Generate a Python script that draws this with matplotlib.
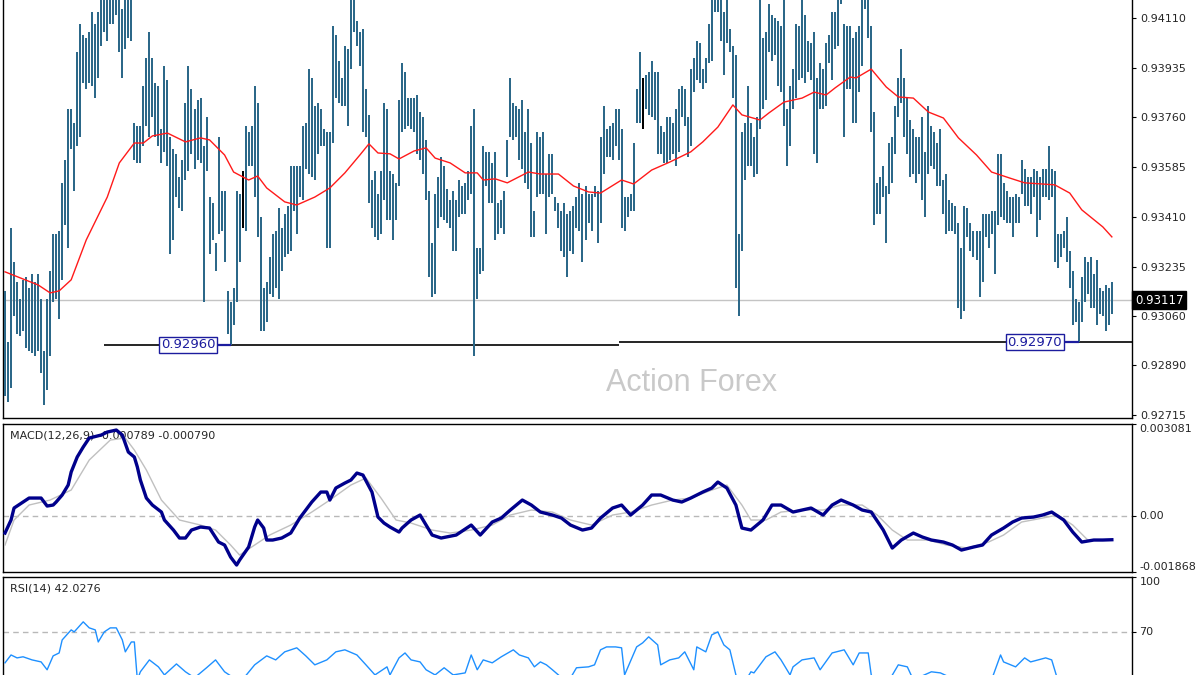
import numpy as np
import matplotlib.pyplot as plt
import matplotlib.transforms as mtransforms

# ---- price bars (high / low), one per bar, left to right ----
highs = [
    0.9315, 0.9297, 0.9337, 0.9325, 0.9318, 0.9312, 0.9319, 0.9320, 0.9316, 0.9321,
    0.9318, 0.9321, 0.9312, 0.9294, 0.9312, 0.9322, 0.9335, 0.9335, 0.9336, 0.9353,
    0.9361, 0.9379, 0.9379, 0.9374, 0.9399, 0.9409, 0.9405, 0.9404, 0.9406, 0.9413,
    0.9409, 0.9413, 0.9420, 0.9421, 0.9422, 0.9424, 0.9420, 0.9423, 0.9419, 0.9414,
    0.9421, 0.9420, 0.9418, 0.9374, 0.9373, 0.9373, 0.9387, 0.9397, 0.9406, 0.9397,
    0.9388, 0.9387, 0.9372, 0.9394, 0.9389, 0.9369, 0.9365, 0.9363, 0.9355, 0.9361,
    0.9381, 0.9394, 0.9386, 0.9379, 0.9382, 0.9383, 0.9366, 0.9376, 0.9348, 0.9346,
    0.9332, 0.9369, 0.9350, 0.9350, 0.9315, 0.9311, 0.9316, 0.9350, 0.9349, 0.9357,
    0.9373, 0.9371, 0.9373, 0.9387, 0.9381, 0.9341, 0.9316, 0.9318, 0.9327, 0.9335,
    0.9336, 0.9344, 0.9337, 0.9342, 0.9345, 0.9359, 0.9359, 0.9359,
    0.9359, 0.9373, 0.9374, 0.9393, 0.9390, 0.9380, 0.9381, 0.9379, 0.9372, 0.9371, 0.9371, 0.9408,
    0.9405, 0.9396, 0.9390, 0.9401, 0.9400, 0.9420, 0.9425, 0.9410, 0.9406, 0.9407,
    0.9386, 0.9377, 0.9354, 0.9357, 0.9349, 0.9357, 0.9381, 0.9379, 0.9357, 0.9356,
    0.9353, 0.9382, 0.9395, 0.9392, 0.9383, 0.9383, 0.9383, 0.9384, 0.9378, 0.9376,
    0.9368, 0.9350, 0.9332, 0.9349, 0.9355, 0.9362, 0.9359, 0.9351, 0.9347, 0.9350,
    0.9347, 0.9354, 0.9352, 0.9353, 0.9357, 0.9373, 0.9379, 0.9330, 0.9330, 0.9366,
    0.9364, 0.9364, 0.9360, 0.9364, 0.9346, 0.9347,
    0.9350, 0.9368, 0.9390, 0.9381,
    0.9380, 0.9379, 0.9382, 0.9371, 0.9379, 0.9367, 0.9343, 0.9371, 0.9369, 0.9371,
    0.9356, 0.9363, 0.9363, 0.9348, 0.9346, 0.9343, 0.9346, 0.9342, 0.9343, 0.9345,
    0.9348, 0.9353, 0.9349, 0.9352, 0.9349, 0.9349, 0.9352, 0.9350, 0.9369, 0.9380,
    0.9372, 0.9373, 0.9374, 0.9379, 0.9379, 0.9372, 0.9348, 0.9348, 0.9349, 0.9367,
    0.9386, 0.9399, 0.9390, 0.9391, 0.9392, 0.9396, 0.9392, 0.9392, 0.9373, 0.9371,
    0.9376, 0.9376, 0.9374, 0.9379, 0.9386, 0.9387, 0.9386, 0.9376, 0.9393, 0.9397,
    0.9403, 0.9402, 0.9393,
    0.9397, 0.9409, 0.9420, 0.9425, 0.9426, 0.9421, 0.9413,
    0.9419, 0.9407, 0.9401, 0.9398, 0.9335, 0.9371, 0.9374, 0.9387, 0.9374, 0.9369,
    0.9376, 0.9419, 0.9404, 0.9406, 0.9416, 0.9412, 0.9411, 0.9410, 0.9408, 0.9421,
    0.9379, 0.9387, 0.9393, 0.9409, 0.9408, 0.9420, 0.9412, 0.9403, 0.9402, 0.9406,
    0.9390, 0.9395, 0.9393, 0.9402, 0.9405, 0.9413, 0.9413, 0.9420, 0.9424, 0.9409,
    0.9408, 0.9408, 0.9404, 0.9406, 0.9408, 0.9419, 0.9424, 0.9420, 0.9408, 0.9378,
    0.9353, 0.9355, 0.9359, 0.9352, 0.9367, 0.9369, 0.9380, 0.9390, 0.9400,
    0.9390, 0.9383, 0.9375, 0.9372, 0.9369, 0.9369, 0.9376, 0.9364, 0.9380, 0.9373, 0.9371,
    0.9367, 0.9372, 0.9354, 0.9356, 0.9347, 0.9346, 0.9345, 0.9339, 0.9330, 0.9345,
    0.9344, 0.9339, 0.9336, 0.9336, 0.9336, 0.9342, 0.9342, 0.9342, 0.9343, 0.9343,
    0.9363, 0.9363, 0.9353, 0.9350, 0.9348, 0.9348, 0.9349, 0.9348, 0.9361, 0.9358,
    0.9355, 0.9355, 0.9358, 0.9357, 0.9355, 0.9358, 0.9358, 0.9366, 0.9358, 0.9357,
    0.9335, 0.9335, 0.9336, 0.9341, 0.9329, 0.9322, 0.9312, 0.9311, 0.9320, 0.9327,
    0.9325, 0.9327, 0.9321, 0.9326, 0.9316, 0.9315, 0.9317, 0.9316, 0.9318,
]
lows = [
    0.9278, 0.9276, 0.9281, 0.9306, 0.9300, 0.9299, 0.9301, 0.9295, 0.9294, 0.9293,
    0.9292, 0.9294, 0.9286, 0.9275, 0.9280, 0.9292, 0.9311, 0.9312, 0.9305, 0.9319,
    0.9338, 0.9330, 0.9365, 0.9350, 0.9366, 0.9369, 0.9388, 0.9386, 0.9388, 0.9387,
    0.9383, 0.9390, 0.9401, 0.9406, 0.9403, 0.9409, 0.9409, 0.9412, 0.9399, 0.9390,
    0.9400, 0.9404, 0.9403, 0.9361, 0.9360, 0.9360, 0.9366, 0.9373, 0.9369, 0.9376,
    0.9369, 0.9366, 0.9360, 0.9364, 0.9359, 0.9328, 0.9333, 0.9348, 0.9344, 0.9343,
    0.9354, 0.9357, 0.9363, 0.9358, 0.9361, 0.9360, 0.9311, 0.9357, 0.9328, 0.9333,
    0.9322, 0.9335, 0.9336, 0.9325, 0.9300, 0.92960, 0.9303, 0.9311, 0.9325, 0.9337,
    0.9336, 0.9359, 0.9359, 0.9348, 0.9334, 0.9301, 0.9301, 0.9304, 0.9314, 0.9313,
    0.9316, 0.9312, 0.9322, 0.9327, 0.9328, 0.9329, 0.9343, 0.9335,
    0.9348, 0.9347, 0.9358, 0.9356, 0.9355, 0.9354, 0.9363, 0.9366, 0.9366, 0.9330, 0.9330, 0.9367,
    0.9383, 0.9381, 0.9380, 0.9380, 0.9373, 0.9393, 0.9406, 0.9401, 0.9394, 0.9371,
    0.9369, 0.9346, 0.9337, 0.9334, 0.9333, 0.9335, 0.9347, 0.9340, 0.9340, 0.9333,
    0.9340, 0.9352, 0.9371, 0.9372, 0.9373, 0.9372, 0.9371, 0.9363, 0.9361, 0.9356,
    0.9347, 0.9320, 0.9313, 0.9314, 0.9337, 0.9341, 0.9340, 0.9339, 0.9337, 0.9329,
    0.9329, 0.9341, 0.9342, 0.9342, 0.9347, 0.9349, 0.9292, 0.9312, 0.9321, 0.9322,
    0.9352, 0.9346, 0.9346, 0.9333, 0.9335, 0.9337,
    0.9335, 0.9355, 0.9369, 0.9368,
    0.9369, 0.9361, 0.9358, 0.9353, 0.9351, 0.9334, 0.9334, 0.9348, 0.9349, 0.9349,
    0.9335, 0.9348, 0.9349, 0.9343, 0.9337, 0.9329, 0.9327, 0.9320, 0.9329, 0.9328,
    0.9337, 0.9336, 0.9325, 0.9333, 0.9339, 0.9336, 0.9348, 0.9332, 0.9339, 0.9356,
    0.9362, 0.9362, 0.9361, 0.9366, 0.9361, 0.9337, 0.9336, 0.9341, 0.9343, 0.9343,
    0.9374, 0.9374, 0.9372, 0.9379, 0.9377, 0.9376, 0.9375, 0.9363, 0.9363, 0.9360,
    0.9360, 0.9361, 0.9363, 0.9359, 0.9364, 0.9376, 0.9373, 0.9362, 0.9366, 0.9385,
    0.9389, 0.9388, 0.9386,
    0.9388, 0.9395, 0.9396, 0.9413, 0.9413, 0.9403, 0.9391,
    0.9402, 0.9399, 0.9383, 0.9316, 0.9306, 0.9329, 0.9354, 0.9359, 0.9359, 0.9355,
    0.9356, 0.9372, 0.9379, 0.9382, 0.9399, 0.9396, 0.9398, 0.9387, 0.9385, 0.9373,
    0.9359, 0.9366, 0.9379, 0.9383, 0.9389, 0.9390, 0.9388, 0.9392, 0.9389, 0.9363,
    0.9360, 0.9379, 0.9379, 0.9380, 0.9395, 0.9389, 0.9400, 0.9401, 0.9416, 0.9369,
    0.9386, 0.9386, 0.9374, 0.9374, 0.9385, 0.9394, 0.9414, 0.9404, 0.9371, 0.9338,
    0.9342, 0.9342, 0.9348, 0.9332, 0.9349, 0.9353, 0.9363, 0.9376, 0.9381,
    0.9369, 0.9363, 0.9355, 0.9356, 0.9353, 0.9356, 0.9347, 0.9341, 0.9356, 0.9359, 0.9358,
    0.9352, 0.9352, 0.9342, 0.9335, 0.9336, 0.9336, 0.9335, 0.9309, 0.9305, 0.9308,
    0.9334, 0.9329, 0.9327, 0.9326, 0.9313, 0.9318, 0.9334, 0.9330, 0.9335, 0.9321,
    0.9338, 0.9341, 0.9340, 0.9339, 0.9339, 0.9334, 0.9339, 0.9339, 0.9349, 0.9345,
    0.9345, 0.9342, 0.9348, 0.9334, 0.9340, 0.9348, 0.9348, 0.9347, 0.9348, 0.9325,
    0.9323, 0.9327, 0.9330, 0.9325, 0.9316, 0.9303, 0.9304, 0.92970, 0.9304, 0.9311,
    0.9314, 0.9309, 0.9309, 0.9303, 0.9307, 0.9306, 0.9301, 0.9303, 0.9307,
]
dark_bars = [79, 212]

# ---- moving average (red) read at selected bars ----
ma_idx = [0, 5, 11, 15, 18, 22, 27, 34, 38, 43, 46, 49, 54, 60, 65, 68, 73, 76, 81, 84,
          87, 93, 97, 103, 108, 113, 118, 121, 124, 128, 131, 136, 140, 143, 148, 153, 157, 159, 163, 167,
          174, 178, 184, 189, 194, 198, 205, 209, 215, 221, 228, 232, 237, 242, 245, 251, 254, 259, 265, 269,
          273, 276, 281, 283, 288, 293, 297, 302, 307, 312, 317, 323, 328, 334, 339, 349, 354, 358, 365, 368]
ma_val = [0.93217, 0.93196, 0.93171, 0.93143, 0.93150, 0.93189, 0.93329, 0.93480, 0.93600, 0.93670,
          0.93670, 0.93695, 0.93705, 0.93674, 0.93688, 0.93681, 0.93628, 0.93568, 0.93540, 0.93554,
          0.93512, 0.93463, 0.93452, 0.93480, 0.93512, 0.93565, 0.93628, 0.93667, 0.93635, 0.93632,
          0.93614, 0.93642, 0.93653, 0.93617, 0.93600, 0.93565, 0.93565, 0.93540, 0.93544, 0.93530,
          0.93568, 0.93561, 0.93561, 0.93519, 0.93498, 0.93494, 0.93540, 0.93526, 0.93575, 0.93603,
          0.93639, 0.93674, 0.93726, 0.93804, 0.93769, 0.93751, 0.93776, 0.93814, 0.93828, 0.93849,
          0.93839, 0.93864, 0.93902, 0.93899, 0.93930, 0.93867, 0.93832, 0.93828, 0.93779, 0.93758,
          0.93688, 0.93628, 0.93568, 0.93547, 0.93530, 0.93523, 0.93494, 0.93435, 0.93375, 0.93340]

# ---- MACD(12,26,9) ----
macd_idx = [0, 2, 3, 6, 8, 12, 14, 16, 17, 19, 21, 22, 24, 26, 28, 32, 34, 37, 39, 41,
            43, 44, 45, 47, 49, 52, 53, 56, 58, 60, 62, 65, 68, 71, 73, 75, 77, 78, 81, 83,
            84, 86, 87, 89, 92, 95, 98, 102, 105, 107, 108, 110, 113, 115, 117, 119, 122, 124, 126, 128,
            131, 132, 135, 138, 142, 145, 150, 155, 158, 162, 165, 168, 172, 175, 178, 182, 185, 188, 192, 195,
            198, 202, 205, 208, 212, 215, 218, 222, 225, 228, 232, 235, 237, 240, 243, 245, 248, 252, 255, 258,
            262, 265, 268, 272, 275, 278, 282, 285, 288, 292, 295, 298, 302, 305, 308, 312, 315, 318, 322, 325,
            328, 332, 335, 338, 342, 345, 348, 352, 355, 358, 362, 365, 368]
macd_val = [-0.000565, -0.000130, 0.000271, 0.000472, 0.000605, 0.000605, 0.000338, 0.000371, 0.000472, 0.000706,
            0.001040, 0.001475, 0.001976, 0.002311, 0.002612, 0.002712, 0.002812, 0.002879, 0.002712, 0.002144,
            0.001976, 0.001642, 0.001207, 0.000605, 0.000371, 0.000137, -0.000130, -0.000465, -0.000732, -0.000732,
            -0.000465, -0.000364, -0.000398, -0.000866, -0.000966, -0.001368, -0.001635, -0.001468, -0.001033, -0.000364,
            -0.000130, -0.000398, -0.000799, -0.000799, -0.000732, -0.000565, -0.000064, 0.000472, 0.000806, 0.000806,
            0.000538, 0.000940, 0.001107, 0.001207, 0.001441, 0.001374, 0.000806, -0.000030, -0.000231, -0.000364,
            -0.000532, -0.000398, -0.000130, 0.000037, -0.000632, -0.000732, -0.000632, -0.000298, -0.000632, -0.000197,
            -0.000064, 0.000204, 0.000538, 0.000371, 0.000137, 0.000037, -0.000064, -0.000298, -0.000465, -0.000398,
            -0.000064, 0.000271, 0.000371, 0.000037, 0.000371, 0.000706, 0.000706, 0.000538, 0.000472, 0.000605,
            0.000806, 0.000940, 0.001140, 0.000940, 0.000371, -0.000398, -0.000465, -0.000130, 0.000371, 0.000371,
            0.000137, 0.000204, 0.000271, 0.000037, 0.000371, 0.000538, 0.000371, 0.000204, 0.000137, -0.000465,
            -0.001067, -0.000799, -0.000565, -0.000699, -0.000799, -0.000866, -0.000966, -0.001134, -0.001033, -0.000966,
            -0.000632, -0.000398, -0.000197, -0.000064, -0.000030, 0.000037, 0.000137, -0.000130, -0.000532, -0.000866,
            -0.000799, -0.000799, -0.000789]
signal_idx = [0, 3, 8, 15, 22, 28, 35, 40, 43, 47, 52, 58, 65, 70, 75, 78, 83, 88, 95, 102,
              108, 115, 120, 125, 130, 135, 142, 148, 155, 162, 168, 175, 182, 188, 195, 202, 208, 215, 222, 228,
              235, 240, 245, 248, 253, 258, 265, 272, 278, 285, 290, 295, 300, 307, 313, 320, 327, 332, 338, 345,
              350, 355, 360, 365, 368]
signal_val = [-0.000966, -0.000130, 0.000371, 0.000538, 0.000873, 0.001876, 0.002545, 0.002612, 0.002210, 0.001542,
              0.000538, -0.000130, -0.000298, -0.000465, -0.000966, -0.001301, -0.000966, -0.000632, -0.000298, 0.000137,
              0.000538, 0.001040, 0.001274, 0.000605, -0.000130, -0.000231, -0.000465, -0.000565, -0.000465, -0.000298,
              0.000037, 0.000204, 0.000137, -0.000130, -0.000298, 0.000037, 0.000137, 0.000371, 0.000538, 0.000605,
              0.000873, 0.001040, 0.000371, -0.000130, -0.000130, 0.000137, 0.000204, 0.000204, 0.000371, 0.000371,
              0.000037, -0.000465, -0.000799, -0.000799, -0.000966, -0.001067, -0.000866, -0.000632, -0.000197, -0.000064,
              0.000037, -0.000298, -0.000799, -0.000799, -0.000790]

# ---- RSI(14) ----
rsi_idx = [0, 2, 4, 6, 9, 12, 14, 16, 18, 19, 22, 23, 26, 28, 30, 31, 33, 35, 37, 39,
           40, 42, 43, 44, 45, 48, 51, 53, 57, 60, 63, 67, 70, 73, 77, 80, 83, 87, 90, 93,
           97, 100, 103, 107, 110, 113, 117, 120, 123, 127, 128, 131, 133, 135, 138, 140, 143, 146, 149, 153,
           155, 157, 159, 162, 165, 169, 171, 174, 176, 178, 180, 182, 184, 187, 190, 194, 196, 198, 200, 203,
           205, 206, 210, 212, 214, 217, 218, 221, 224, 226, 229, 230, 233, 235, 237, 239, 241, 243, 245, 248,
           249, 253, 256, 258, 261, 262, 265, 269, 271, 275, 279, 282, 284, 287, 288, 292, 297, 300, 302, 308,
           311, 316, 322, 328, 331, 332, 336, 339, 341, 346, 348, 350, 358, 368]
rsi_val = [53.1, 57.4, 55.8, 56.4, 54.7, 53.6, 49.3, 56.9, 58.5, 65.6,
           71.1, 70.0, 75.5, 72.2, 71.1, 64.5, 70.0, 72.2, 72.2, 65.6,
           59.1, 64.5, 64.5, 43.8, 48.2, 54.7, 50.9, 46.5, 52.5, 48.2,
           44.9, 50.4, 54.7, 48.2, 43.8, 46.0, 52.0, 56.9, 54.7, 59.1,
           61.3, 56.9, 52.0, 54.7, 59.1, 60.2, 57.4, 52.0, 46.5, 50.9,
           46.5, 55.8, 58.5, 54.7, 53.6, 49.3, 46.5, 50.4, 46.5, 47.6,
           57.4, 49.3, 54.7, 53.1, 56.4, 60.2, 57.4, 55.8, 50.9, 53.6,
           52.0, 49.3, 46.5, 42.0, 50.4, 50.9, 52.0, 60.2, 61.8, 61.8,
           61.3, 46.5, 61.8, 64.0, 67.3, 62.9, 52.0, 54.7, 55.8, 59.1,
           49.3, 61.8, 59.1, 68.4, 70.0, 62.9, 60.2, 46.5, 40.0, 48.2,
           47.6, 56.4, 59.1, 54.7, 46.5, 50.9, 54.7, 55.8, 49.3, 58.5,
           60.2, 52.0, 58.5, 58.5, 46.5, 38.0, 52.0, 50.9, 43.8, 48.2,
           47.6, 43.8, 38.0, 43.8, 57.4, 53.6, 50.9, 55.8, 53.6, 55.8,
           54.7, 43.8, 38.0, 42.0276]

price_ticks = [0.94110, 0.93935, 0.93760, 0.93585, 0.93410, 0.93235, 0.93060, 0.92890, 0.92715]
last_price = 0.93117
support_levels = [0.92960, 0.92970]
support_spans = [(33, 204), (204, 376)]
support_bars = [75, 357]
macd_labels = [0.003081, 0.0, -0.001868]
rsi_levels = [100, 70, 30]

BAR_COLOR = "#2c6889"
TEXT_COLOR = "#262626"
LABEL_BLUE = "#1c1c9e"

W, H = 1200, 675
fig = plt.figure(figsize=(12, 6.75), dpi=100)
fig.patch.set_facecolor("white")


def panel(x0, y0, x1, y1):
    return fig.add_axes([x0 / W, 1 - y1 / H, (x1 - x0) / W, (y1 - y0) / H])


ax = panel(3, -2, 1132, 418)
ax_m = panel(3, 424, 1132, 572)
ax_r = panel(3, 577, 1132, 760)

x = np.arange(len(highs))
xlim = (-0.67, 374.7)

for a in (ax, ax_m, ax_r):
    a.set_xlim(*xlim)
    a.set_xticks([])
    a.yaxis.tick_right()
    a.tick_params(axis="y", direction="out", length=3, width=0.8, pad=3,
                  labelsize=8, labelcolor=TEXT_COLOR, colors="black")
    for s in a.spines.values():
        s.set_color("black")
        s.set_linewidth(1.0)
ax.spines["top"].set_visible(False)

# ---- main price panel ----
ax.set_ylim(0.92703, 0.94180)
colors = [("black" if i in dark_bars else BAR_COLOR) for i in range(len(highs))]
ax.vlines(x, lows, highs, colors=colors, linewidth=1.3, antialiased=False, zorder=3)
ax.plot(ma_idx, ma_val, color="#ff1a1a", linewidth=1.0, zorder=4)
ax.axhline(last_price, color="#c4c4c4", linewidth=1.0, zorder=1)

for lvl, (s0, s1) in zip(support_levels, support_spans):
    ax.hlines(lvl, s0, s1, colors="black", linewidth=1.2, zorder=2)

# boxed support labels with navy connectors to the bar lows
for lvl, b, right in zip(support_levels, support_bars, [70.8, 352.4]):
    ax.hlines(lvl, right, b, colors=LABEL_BLUE, linewidth=1.6, zorder=5)
    ax.text(right - 0.9, lvl, f"{lvl:.5f}", ha="right", va="center", fontsize=9.5,
            color=LABEL_BLUE, zorder=6,
            bbox=dict(boxstyle="square,pad=0.12", fc="white", ec=LABEL_BLUE, lw=1.0))

ax.set_yticks(price_ticks)
ax.set_yticklabels([f"{t:.5f}" for t in price_ticks])

trans = mtransforms.blended_transform_factory(ax.transAxes, ax.transData)
ax.text(1.0025, last_price, f"{last_price:.5f}", transform=trans, ha="left", va="center",
        fontsize=8.5, color="white", zorder=10, clip_on=False,
        bbox=dict(boxstyle="square,pad=0.2", fc="black", ec="black"))

ax.text(0.610, 0.083, "Action Forex", transform=ax.transAxes, ha="center", va="center",
        fontsize=22, color="#c9c9c9", family="Liberation Sans", zorder=0)

# ---- MACD panel ----
ax_m.set_ylim(macd_labels[2], macd_labels[0])
ax_m.axhline(0, color="#b8b8b8", linewidth=1.0, linestyle=(0, (4, 3)), zorder=1)
ax_m.plot(signal_idx, signal_val, color="#c0c0c0", linewidth=1.0, zorder=3)
ax_m.plot(macd_idx, macd_val, color="#00008b", linewidth=2.4, zorder=4)
ax_m.set_yticks(macd_labels)
ax_m.set_yticklabels([])
mtrans = mtransforms.blended_transform_factory(ax_m.transAxes, ax_m.transData)
for val, txt, va in zip(macd_labels, ["0.003081", "0.00", "-0.001868"], ["top", "center", "bottom"]):
    ax_m.text(1.0065, val, txt, transform=mtrans, ha="left", va=va, fontsize=8,
              color=TEXT_COLOR, clip_on=False)
ax_m.text(0.006, 0.955, "MACD(12,26,9) -0.000789 -0.000790", transform=ax_m.transAxes,
          ha="left", va="top", fontsize=8, color=TEXT_COLOR, zorder=2)

# ---- RSI panel ----
ax_r.set_ylim(0, 100)
ax_r.axhline(rsi_levels[1], color="#b8b8b8", linewidth=1.0, linestyle=(0, (4, 3)), zorder=1)
ax_r.axhline(rsi_levels[2], color="#b8b8b8", linewidth=1.0, linestyle=(0, (4, 3)), zorder=1)
ax_r.plot(rsi_idx, rsi_val, color="#1e90ff", linewidth=1.0, zorder=3)
ax_r.set_yticks(rsi_levels)
ax_r.set_yticklabels([])
rtrans = mtransforms.blended_transform_factory(ax_r.transAxes, ax_r.transData)
for val, va in zip(rsi_levels[:2], ["top", "center"]):
    ax_r.text(1.0065, val, str(val), transform=rtrans, ha="left", va=va, fontsize=8,
              color=TEXT_COLOR, clip_on=False)
ax_r.text(0.006, 0.962, "RSI(14) 42.0276", transform=ax_r.transAxes,
          ha="left", va="top", fontsize=8, color=TEXT_COLOR, zorder=2)

fig.savefig("out.png", dpi=100, facecolor="white")
